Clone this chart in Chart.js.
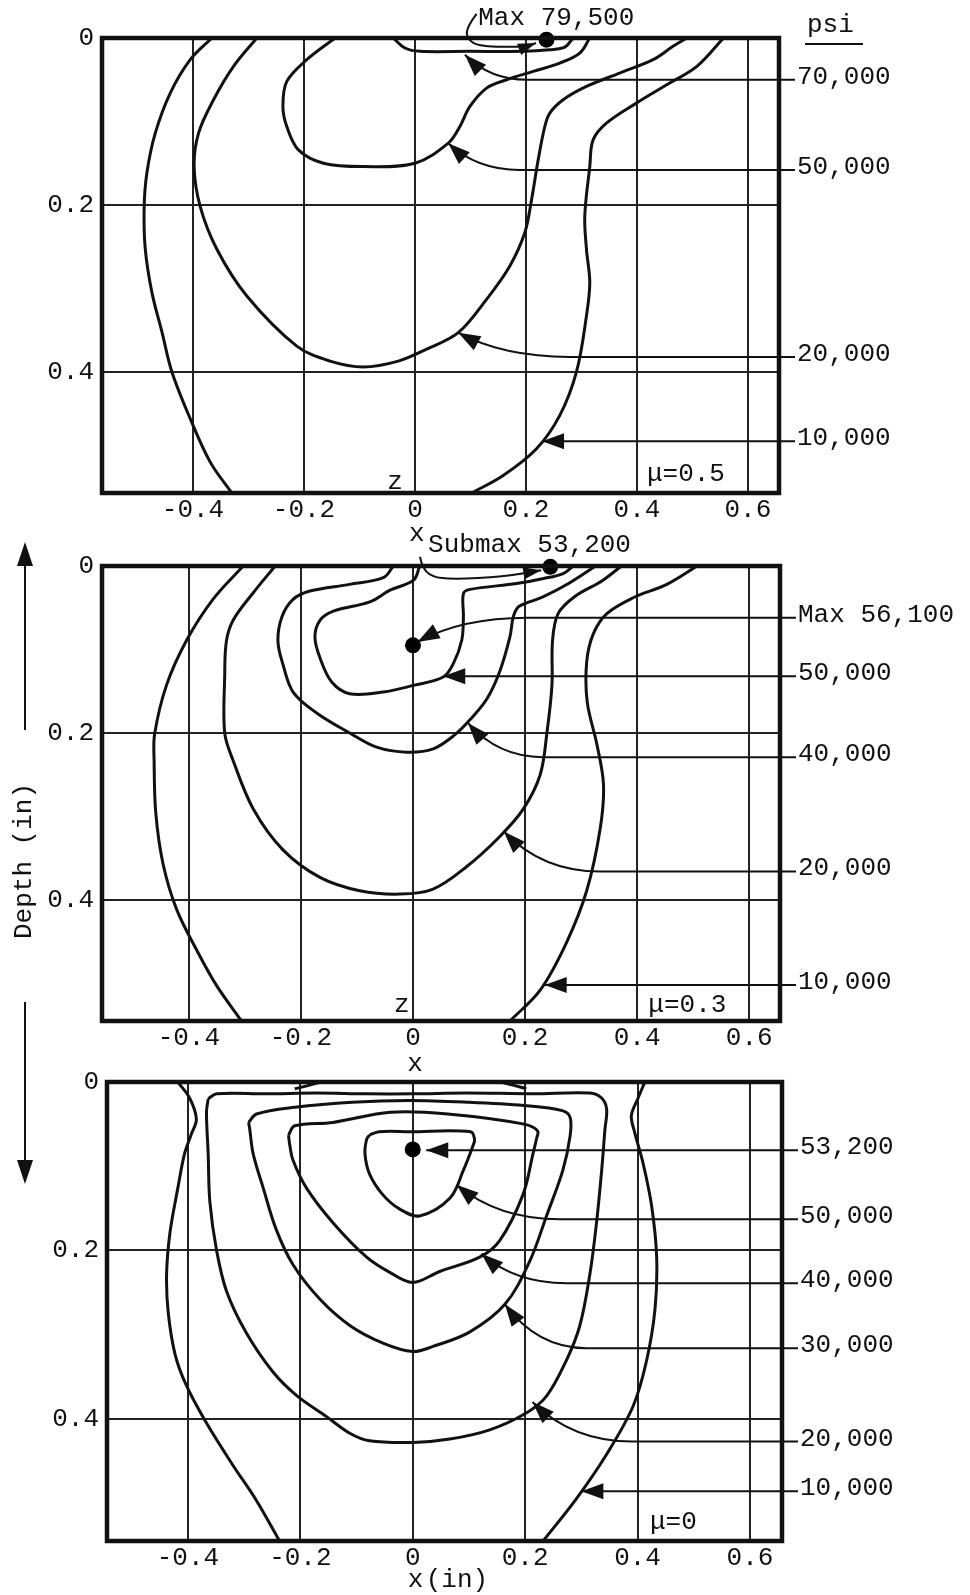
<!DOCTYPE html>
<html>
<head>
<meta charset="utf-8">
<script src="https://cdn.jsdelivr.net/npm/chart.js@4/dist/chart.umd.min.js"></script>
<style>
html,body{margin:0;padding:0;background:#fff;}
#wrap{position:relative;width:970px;height:1595px;overflow:hidden;background:#fff;}
canvas{position:absolute;left:0;}
</style>
</head>
<body>
<div id="wrap">
<canvas id="c1" width="970" height="525" style="top:0px"></canvas>
<canvas id="c2" width="970" height="680" style="top:520px"></canvas>
<canvas id="c3" width="970" height="545" style="top:1050px"></canvas>
</div>
<script>
// Tick values shared by the three panels (x across the contact, depth below the surface, inches)
const xTicks = [-0.4, -0.2, 0, 0.2, 0.4, 0.6];
const yTicks = [0, 0.2, 0.4];

// ---- μ = 0.5 : stress contours, points are [x, depth] ----
const mu05_10k_left = [[-0.366,0.000],[-0.405,0.026],[-0.441,0.066],[-0.468,0.114],[-0.483,0.161],[-0.488,0.202],[-0.486,0.253],[-0.474,0.305],[-0.456,0.352],[-0.438,0.400],[-0.405,0.456],[-0.369,0.508],[-0.330,0.545]];
const mu05_10k_right = [[0.556,0.000],[0.508,0.034],[0.459,0.054],[0.399,0.078],[0.345,0.102],[0.321,0.122],[0.315,0.154],[0.306,0.213],[0.309,0.253],[0.315,0.293],[0.309,0.333],[0.291,0.400],[0.261,0.452],[0.219,0.492],[0.159,0.524],[0.102,0.545]];
const mu05_20k = [[-0.285,0.000],[-0.327,0.034],[-0.363,0.074],[-0.390,0.114],[-0.398,0.154],[-0.387,0.202],[-0.357,0.253],[-0.303,0.309],[-0.213,0.369],[-0.153,0.387],[-0.093,0.394],[-0.030,0.387],[0.020,0.373],[0.078,0.353],[0.129,0.313],[0.171,0.273],[0.198,0.233],[0.210,0.194],[0.222,0.146],[0.234,0.106],[0.243,0.090],[0.267,0.074],[0.309,0.058],[0.369,0.042],[0.429,0.026],[0.465,0.010],[0.490,0.000]];
const mu05_50k = [[-0.144,0.000],[-0.195,0.026],[-0.231,0.052],[-0.238,0.082],[-0.231,0.106],[-0.210,0.134],[-0.165,0.150],[-0.093,0.154],[0.000,0.150],[0.060,0.126],[0.081,0.106],[0.099,0.082],[0.129,0.060],[0.165,0.050],[0.213,0.040],[0.261,0.030],[0.297,0.018],[0.315,0.000]];
const mu05_70k = [[-0.039,0.000],[-0.018,0.012],[0.009,0.016],[0.099,0.016],[0.195,0.016],[0.243,0.014],[0.270,0.011],[0.285,0.000]];
const mu05_max = [0.237, 0.002];
const mu05_labels = ['70,000','50,000','20,000','10,000'];
const mu05_labelDepth = [0.050, 0.158, 0.382, 0.483];
const mu05_bendX = [0.202, 0.189, 0.279, null];
const mu05_tips = [[0.090,0.020],[0.060,0.126],[0.078,0.353],[0.229,0.483]];
const mu05_maxNotePath = [[0.111,-0.029],[0.092,-0.012],[0.095,0.002],[0.117,0.010],[0.198,0.011],[0.218,0.006]];

// ---- μ = 0.3 ----
const mu03_10k_left = [[-0.303,0.000],[-0.357,0.040],[-0.404,0.089],[-0.440,0.143],[-0.461,0.201],[-0.462,0.234],[-0.459,0.296],[-0.446,0.357],[-0.422,0.411],[-0.386,0.460],[-0.351,0.502],[-0.306,0.545]];
const mu03_10k_right = [[0.507,0.000],[0.453,0.022],[0.393,0.038],[0.346,0.057],[0.322,0.081],[0.310,0.115],[0.311,0.163],[0.328,0.213],[0.340,0.262],[0.334,0.315],[0.310,0.389],[0.274,0.451],[0.227,0.508],[0.173,0.545]];
const mu03_20k = [[-0.246,0.000],[-0.285,0.032],[-0.321,0.065],[-0.333,0.090],[-0.336,0.131],[-0.336,0.200],[-0.321,0.233],[-0.285,0.291],[-0.232,0.340],[-0.166,0.373],[-0.095,0.389],[-0.023,0.393],[0.036,0.387],[0.096,0.360],[0.155,0.324],[0.197,0.291],[0.227,0.250],[0.239,0.200],[0.248,0.143],[0.249,0.090],[0.259,0.057],[0.290,0.036],[0.337,0.018],[0.372,0.000]];
const mu03_40k = [[-0.035,0.000],[-0.053,0.014],[-0.113,0.022],[-0.184,0.030],[-0.214,0.040],[-0.234,0.061],[-0.241,0.090],[-0.232,0.118],[-0.214,0.151],[-0.172,0.176],[-0.113,0.200],[-0.065,0.217],[-0.011,0.223],[0.036,0.219],[0.075,0.202],[0.102,0.184],[0.132,0.159],[0.155,0.126],[0.173,0.085],[0.179,0.061],[0.188,0.049],[0.204,0.044],[0.232,0.037],[0.280,0.020],[0.326,0.000]];
const mu03_50k = [[0.012,0.000],[0.001,0.017],[-0.041,0.029],[-0.077,0.043],[-0.142,0.054],[-0.166,0.065],[-0.175,0.085],[-0.166,0.110],[-0.145,0.139],[-0.113,0.153],[-0.053,0.151],[0.001,0.143],[0.054,0.133],[0.072,0.117],[0.087,0.089],[0.090,0.061],[0.090,0.033],[0.102,0.028],[0.185,0.021],[0.233,0.015],[0.268,0.009],[0.286,0.000]];
const mu03_max = [0.000, 0.095];
const mu03_submax = [0.245, 0.001];
const mu03_labels = ['Max 56,100','50,000','40,000','20,000','10,000'];
const mu03_labelDepth = [0.062, 0.132, 0.229, 0.366, 0.502];
const mu03_bendX = [0.204, null, 0.232, 0.334, null];
const mu03_tips = [[0.008,0.091],[0.054,0.132],[0.098,0.188],[0.162,0.318],[0.235,0.502]];
const mu03_submaxNotePath = [[0.0125,-0.011],[0.016,0.001],[0.033,0.013],[0.071,0.016],[0.161,0.013],[0.229,0.005]];

// ---- μ = 0 ----
const mu0_10k_left = [[-0.418,0.000],[-0.397,0.019],[-0.385,0.044],[-0.394,0.062],[-0.406,0.085],[-0.418,0.126],[-0.432,0.179],[-0.438,0.229],[-0.435,0.274],[-0.423,0.323],[-0.403,0.360],[-0.367,0.405],[-0.320,0.455],[-0.279,0.496],[-0.237,0.545]];
const mu0_10k_right = [[0.413,0.000],[0.401,0.019],[0.389,0.040],[0.395,0.060],[0.410,0.097],[0.425,0.147],[0.434,0.208],[0.431,0.270],[0.416,0.331],[0.392,0.385],[0.345,0.442],[0.291,0.495],[0.232,0.545]];
const mu0_surf_left = [[-0.210,0.008],[-0.185,0.004],[-0.163,0.000]];
const mu0_surf_right = [[0.157,0.000],[0.180,0.004],[0.202,0.008]];
const mu0_20k = [[-0.364,0.020],[-0.349,0.014],[-0.260,0.014],[-0.171,0.013],[-0.082,0.014],[0.001,0.014],[0.096,0.013],[0.214,0.014],[0.315,0.013],[0.336,0.019],[0.345,0.032],[0.342,0.056],[0.336,0.106],[0.327,0.167],[0.315,0.229],[0.297,0.290],[0.273,0.331],[0.238,0.373],[0.202,0.393],[0.137,0.413],[0.066,0.424],[0.001,0.428],[-0.077,0.426],[-0.112,0.417],[-0.154,0.397],[-0.207,0.372],[-0.249,0.344],[-0.296,0.298],[-0.331,0.249],[-0.349,0.200],[-0.361,0.142],[-0.364,0.085],[-0.367,0.036],[-0.364,0.020]];
const mu0_30k = [[-0.292,0.048],[-0.278,0.038],[-0.210,0.030],[-0.108,0.024],[-0.006,0.022],[0.096,0.024],[0.198,0.028],[0.266,0.034],[0.280,0.042],[0.280,0.064],[0.267,0.105],[0.238,0.159],[0.208,0.213],[0.164,0.264],[0.101,0.297],[0.036,0.314],[0.000,0.320],[-0.053,0.310],[-0.112,0.289],[-0.165,0.258],[-0.213,0.217],[-0.243,0.175],[-0.266,0.126],[-0.284,0.085],[-0.290,0.056],[-0.292,0.048]];
const mu0_40k = [[-0.221,0.063],[-0.210,0.052],[-0.142,0.048],[-0.040,0.036],[0.062,0.038],[0.198,0.050],[0.222,0.058],[0.220,0.068],[0.214,0.085],[0.196,0.134],[0.155,0.188],[0.119,0.208],[0.048,0.225],[0.000,0.238],[-0.041,0.226],[-0.082,0.208],[-0.142,0.167],[-0.189,0.126],[-0.213,0.093],[-0.219,0.074],[-0.221,0.063]];
const mu0_50k = [[-0.077,0.063],[-0.060,0.059],[-0.005,0.059],[0.103,0.059],[0.110,0.068],[0.107,0.076],[0.090,0.105],[0.066,0.138],[0.012,0.159],[-0.023,0.151],[-0.053,0.134],[-0.077,0.109],[-0.085,0.085],[-0.082,0.068],[-0.077,0.063]];
const mu0_max = [0.000, 0.080];
const mu0_labels = ['53,200','50,000','40,000','30,000','20,000','10,000'];
const mu0_labelDepth = [0.081, 0.163, 0.239, 0.316, 0.427, 0.486];
const mu0_bendX = [null, 0.262, 0.273, 0.309, 0.391, null];
const mu0_tips = [[0.024,0.081],[0.078,0.122],[0.122,0.204],[0.164,0.264],[0.213,0.380],[0.300,0.486]];

const FONT = '26px "Liberation Mono", "DejaVu Sans Mono", monospace';
const INK = '#111';

Chart.defaults.font.family = '"Liberation Mono", "DejaVu Sans Mono", monospace';
Chart.defaults.font.size = 26;
Chart.defaults.color = INK;

const pts = arr => arr.map(([x, y]) => ({x, y}));
const tickText = v => (v === 0 ? '0' : v.toFixed(1));

function contour(arr) {
  return {data: pts(arr), showLine: true, borderColor: INK, borderWidth: 3,
          pointRadius: 0, pointHoverRadius: 0, tension: 0.35, fill: false};
}
function dot(p) {
  return {data: pts([p]), showLine: false, pointRadius: 8, pointHoverRadius: 8,
          backgroundColor: '#000', borderWidth: 0, clip: false};
}

function arrowHead(ctx, fx, fy, tx, ty, len = 22, half = 8) {
  const a = Math.atan2(ty - fy, tx - fx);
  const c = Math.cos(a), s = Math.sin(a);
  ctx.beginPath();
  ctx.moveTo(tx, ty);
  ctx.lineTo(tx - len * c + half * s, ty - len * s - half * c);
  ctx.lineTo(tx - len * c - half * s, ty - len * s + half * c);
  ctx.closePath();
  ctx.fill();
}

function smoothStroke(ctx, p) {
  ctx.beginPath();
  ctx.moveTo(p[0][0], p[0][1]);
  for (let i = 1; i < p.length - 1; i++) {
    const mx = (p[i][0] + p[i + 1][0]) / 2, my = (p[i][1] + p[i + 1][1]) / 2;
    ctx.quadraticCurveTo(p[i][0], p[i][1], mx, my);
  }
  ctx.lineTo(p[p.length - 1][0], p[p.length - 1][1]);
  ctx.stroke();
}

// Frame, value call-outs with arrows, and panel notes
function panelPlugin(cfg) {
  return {
    id: 'panelDecor',
    afterDraw(chart) {
      const {ctx, chartArea: a, scales} = chart;
      const X = v => scales.x.getPixelForValue(v);
      const Y = v => scales.y.getPixelForValue(v);
      ctx.save();
      ctx.strokeStyle = INK;
      ctx.fillStyle = INK;
      ctx.lineWidth = 4.5;
      ctx.strokeRect(a.left, a.top, a.right - a.left, a.bottom - a.top);

      ctx.font = FONT;
      ctx.textBaseline = 'middle';
      ctx.textAlign = 'left';
      ctx.lineWidth = 2;
      cfg.labels.forEach((t, i) => {
        const ly = Y(cfg.labelDepth[i]);
        const tx = X(cfg.tips[i][0]), ty = Y(cfg.tips[i][1]);
        const sx = a.right + 16;
        let fx = sx, fy = ly;
        ctx.beginPath();
        ctx.moveTo(sx, ly);
        if (cfg.bendX[i] === null) {
          ctx.lineTo(tx, ty);
        } else {
          const bx = X(cfg.bendX[i]);
          ctx.lineTo(bx, ly);
          const cx = tx + 0.4 * (bx - tx);
          ctx.quadraticCurveTo(cx, ly, tx, ty);
          fx = cx; fy = ly;
        }
        ctx.stroke();
        arrowHead(ctx, fx, fy, tx, ty);
        ctx.fillText(t, a.right + 18, ly - 3);
      });

      if (cfg.note) {
        const p = cfg.note.path.map(([x, y]) => [X(x), Y(y)]);
        smoothStroke(ctx, p);
        const n = p.length - 1;
        arrowHead(ctx, p[n - 1][0], p[n - 1][1], p[n][0], p[n][1], 18, 6);
        ctx.fillText(cfg.note.text, X(cfg.note.at[0]), Y(cfg.note.at[1]));
      }
      (cfg.texts || []).forEach(t => {
        ctx.textAlign = t.align || 'left';
        ctx.fillText(t.text, X(t.at[0]), Y(t.at[1]));
      });
      ctx.textAlign = 'left';
      if (cfg.extra) cfg.extra(ctx, a, X, Y);
      ctx.restore();
    }
  };
}

function makePanel(cfg) {
  const gridOpts = {color: '#222', lineWidth: 2, drawTicks: false};
  return new Chart(document.getElementById(cfg.id), {
    type: 'scatter',
    data: {datasets: cfg.lines.map(contour).concat(cfg.dots.map(dot))},
    options: {
      responsive: false, animation: false, devicePixelRatio: 1,
      layout: {padding: cfg.pad},
      plugins: {legend: {display: false}, tooltip: {enabled: false}},
      events: [],
      scales: {
        x: {
          type: 'linear', position: 'bottom', min: cfg.xRange[0], max: cfg.xRange[1],
          afterBuildTicks: s => { s.ticks = xTicks.map(v => ({value: v})); },
          afterFit: s => { s.height = 32; },
          ticks: {callback: tickText, padding: 2, color: INK, maxRotation: 0, autoSkip: false},
          grid: gridOpts, border: {display: false}
        },
        y: {
          type: 'linear', position: 'left', reverse: true, min: 0, max: 0.545,
          afterBuildTicks: s => { s.ticks = yTicks.map(v => ({value: v})); },
          afterFit: s => { s.width = cfg.axisWidth; },
          ticks: {callback: tickText, padding: 8, color: INK, autoSkip: false},
          grid: gridOpts, border: {display: false}
        }
      }
    },
    plugins: [panelPlugin(cfg)]
  });
}

// μ = 0.5
makePanel({
  id: 'c1', pad: {top: 38, left: 0, right: 191, bottom: 0}, axisWidth: 102,
  xRange: [-0.564, 0.656],
  lines: [mu05_10k_left, mu05_10k_right, mu05_20k, mu05_50k, mu05_70k],
  dots: [mu05_max],
  labels: mu05_labels, labelDepth: mu05_labelDepth, bendX: mu05_bendX, tips: mu05_tips,
  note: {text: 'Max 79,500', at: [0.114, -0.024], path: mu05_maxNotePath},
  texts: [{text: 'z', at: [-0.036, 0.532], align: 'center'},
          {text: 'μ=0.5', at: [0.418, 0.522]}],
  extra(ctx, a) {
    ctx.fillText('psi', a.right + 28, a.top - 13);
    ctx.lineWidth = 2;
    ctx.beginPath();
    ctx.moveTo(a.right + 26, a.top + 6);
    ctx.lineTo(a.right + 84, a.top + 6);
    ctx.stroke();
  }
});

// μ = 0.3
makePanel({
  id: 'c2', pad: {top: 46, left: 0, right: 190, bottom: 147}, axisWidth: 102,
  xRange: [-0.555, 0.655],
  lines: [mu03_10k_left, mu03_10k_right, mu03_20k, mu03_40k, mu03_50k],
  dots: [mu03_max, mu03_submax],
  labels: mu03_labels, labelDepth: mu03_labelDepth, bendX: mu03_bendX, tips: mu03_tips,
  note: {text: 'Submax 53,200', at: [0.027, -0.025], path: mu03_submaxNotePath},
  texts: [{text: 'x', at: [0.007, -0.038], align: 'center'},
          {text: 'z', at: [-0.020, 0.526], align: 'center'},
          {text: 'μ=0.3', at: [0.420, 0.526]}],
  extra(ctx, a) {
    // depth title with its two direction arrows
    const ax = a.left - 77;
    ctx.save();
    ctx.translate(a.left - 78, a.top + 295);
    ctx.rotate(-Math.PI / 2);
    ctx.textAlign = 'center';
    ctx.fillText('Depth (in)', 0, 0);
    ctx.restore();
    ctx.lineWidth = 2;
    ctx.beginPath();
    ctx.moveTo(ax, a.top + 164);
    ctx.lineTo(ax, a.top - 10);
    ctx.stroke();
    arrowHead(ctx, ax, a.top + 20, ax, a.top - 24, 24, 8);
    ctx.beginPath();
    ctx.moveTo(ax, a.bottom - 19);
    ctx.lineTo(ax, a.bottom + 150);
    ctx.stroke();
    arrowHead(ctx, ax, a.bottom + 120, ax, a.bottom + 163, 24, 8);
  }
});

// μ = 0
makePanel({
  id: 'c3', pad: {top: 32, left: 0, right: 188, bottom: 22}, axisWidth: 107,
  xRange: [-0.544, 0.657],
  lines: [mu0_10k_left, mu0_10k_right, mu0_surf_left, mu0_surf_right, mu0_20k, mu0_30k, mu0_40k, mu0_50k],
  dots: [mu0_max],
  labels: mu0_labels, labelDepth: mu0_labelDepth, bendX: mu0_bendX, tips: mu0_tips,
  texts: [{text: 'x', at: [0.004, -0.021], align: 'center'},
          {text: 'μ=0', at: [0.422, 0.523]}],
  extra(ctx, a, X) {
    const y = a.bottom + 39;
    ctx.fillText('x', X(0) - 5, y);
    ctx.fillText('(in)', X(0) + 13, y);
  }
});
</script>
</body>
</html>
